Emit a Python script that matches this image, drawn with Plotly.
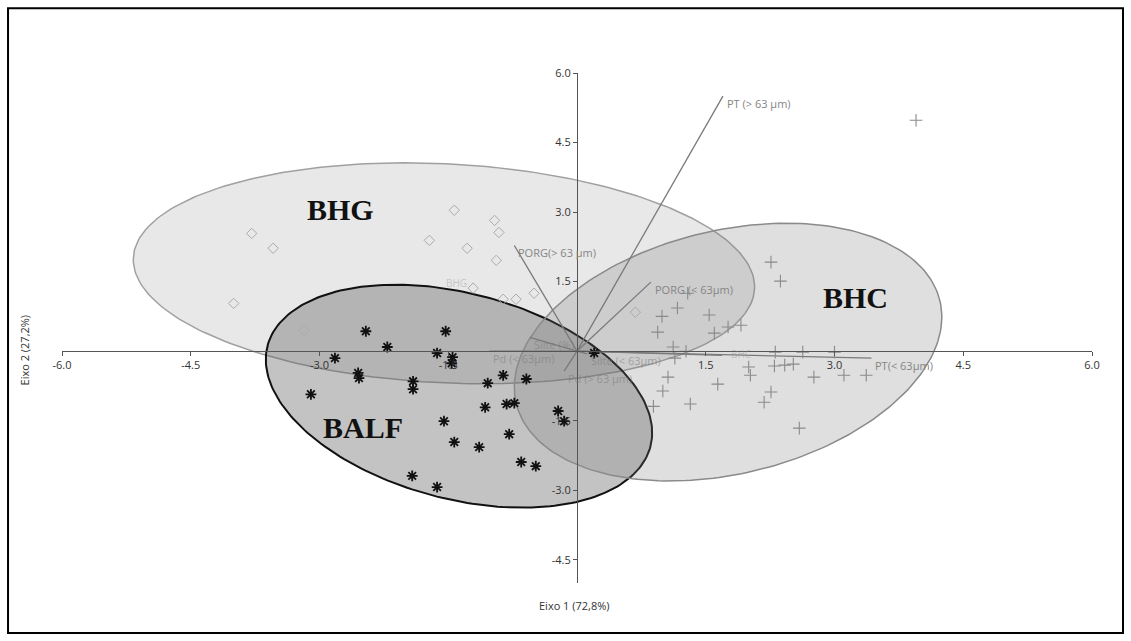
import numpy as np
import plotly.graph_objects as go

# PCA sample scores per group (Eixo 1, Eixo 2)
bhg_x = [-3.79, -3.54, -4.00, -1.43, -1.72, -1.28, -0.96, -0.91, -0.94, -1.21, -0.86, -0.71, -0.50, 0.68, -3.18]
bhg_y = [2.54, 2.22, 1.03, 3.04, 2.39, 2.22, 2.82, 2.56, 1.96, 1.36, 1.12, 1.12, 1.25, 0.84, 0.45]

balf_x = [-2.46, -1.53, -2.21, -1.63, -1.45, -1.46, -2.82, -2.55, -2.54, -1.91, -1.91, -3.10, -1.04, -0.86, -0.59,
          -1.07, -0.82, -0.73, -1.55, -0.79, -1.43, -1.14, -0.22, -0.15, -0.65, -0.48, -1.92, -1.63, 0.20]
balf_y = [0.43, 0.43, 0.09, -0.04, -0.13, -0.26, -0.15, -0.47, -0.58, -0.65, -0.82, -0.93, -0.69, -0.52, -0.60,
          -1.21, -1.14, -1.12, -1.51, -1.79, -1.96, -2.07, -1.29, -1.51, -2.39, -2.48, -2.69, -2.93, -0.04]

bhc_x = [2.26, 2.37, 1.29, 1.17, 0.99, 1.54, 0.94, 1.60, 1.76, 1.91, 1.12, 1.27, 1.14, 2.00, 2.02, 2.30, 2.42,
         2.52, 2.76, 3.11, 3.37, 2.31, 2.63, 3.00, 1.06, 1.00, 1.64, 2.26, 2.18, 1.32, 0.89, 2.59, 3.95]
bhc_y = [1.92, 1.51, 1.25, 0.93, 0.75, 0.78, 0.41, 0.39, 0.52, 0.56, 0.09, 0.00, -0.15, -0.34, -0.52, -0.32, -0.30,
         -0.28, -0.56, -0.52, -0.52, -0.02, -0.02, -0.02, -0.56, -0.86, -0.71, -0.88, -1.10, -1.14, -1.19, -1.66, 4.98]

# Variable loadings (biplot vectors)
var_labels = ["PT (> 63 µm)", "PORG(> 63 µm)", "PORG (< 63µm)", "PT(< 63µm)", "",
              "Silte (%)", "Pd (< 63µm)", "Pd (> 63 µm)", "Silte (< 63µm)"]
var_x = [1.70, -0.73, 0.86, 3.43, 1.69, -0.55, -1.02, -0.15, 0.12]
var_y = [5.50, 2.28, 1.49, -0.15, -0.09, 0.30, 0.00, -0.43, -0.06]

# 95% ellipses: center x, center y, semi-major, semi-minor, angle (deg)
groups = ["BHG", "BALF", "BHC"]
ell_cx = [-1.55, -1.375, 1.76]
ell_cy = [1.68, -0.97, -0.02]
ell_a = [3.64, 2.69, 3.00]
ell_b = [2.35, 1.90, 2.22]
ell_ang = [-8.0, -50.7, 56.0]

# Group name positions
grp_lx = [-2.76, -2.49, 3.25]
grp_ly = [3.06, -1.64, 1.16]

xticks = [-6.0, -4.5, -3.0, -1.5, 1.5, 3.0, 4.5, 6.0]
yticks = [6.0, 4.5, 3.0, 1.5, -1.5, -3.0, -4.5]

ell_fill = ["rgba(120,120,120,0.17)", "rgba(90,90,90,0.36)", "rgba(120,120,120,0.24)"]
ell_line = ["#a0a0a0", "#111111", "#8a8a8a"]
ell_width = [1.5, 2.0, 1.5]

fig = go.Figure()

t = np.linspace(0, 2 * np.pi, 240)
for i, g in enumerate(groups):
    th = np.deg2rad(ell_ang[i])
    ex = ell_cx[i] + ell_a[i] * np.cos(t) * np.cos(th) - ell_b[i] * np.sin(t) * np.sin(th)
    ey = ell_cy[i] + ell_a[i] * np.cos(t) * np.sin(th) + ell_b[i] * np.sin(t) * np.cos(th)
    fig.add_trace(go.Scatter(x=ex, y=ey, mode="lines", fill="toself",
                             fillcolor=ell_fill[i],
                             line=dict(color=ell_line[i], width=ell_width[i]),
                             hoverinfo="skip", showlegend=False))

# loading vectors
vx, vy = [], []
for x, y in zip(var_x, var_y):
    vx += [0, x, None]
    vy += [0, y, None]
fig.add_trace(go.Scatter(x=vx, y=vy, mode="lines",
                         line=dict(color="#7a7a7a", width=1.3),
                         hoverinfo="skip", showlegend=False))

# sample points
fig.add_trace(go.Scatter(x=bhg_x, y=bhg_y, mode="markers", name="BHG",
                         marker=dict(symbol="diamond-open", size=8,
                                     color="#aaaaaa", line=dict(width=1)),
                         showlegend=False))
fig.add_trace(go.Scatter(x=balf_x, y=balf_y, mode="markers", name="BALF",
                         marker=dict(symbol="asterisk-open", size=9,
                                     color="#111111", line=dict(width=1.8, color="#111111")),
                         showlegend=False))
fig.add_trace(go.Scatter(x=bhc_x, y=bhc_y, mode="markers", name="BHC",
                         marker=dict(symbol="cross-thin-open", size=9,
                                     color="#8a8a8a", line=dict(width=1.1, color="#8a8a8a")),
                         showlegend=False))

annotations = []
for lab, x, y in zip(var_labels, var_x, var_y):
    if not lab:
        continue
    near_origin = abs(x) < 1.1 and abs(y) < 0.5
    annotations.append(dict(x=x, y=y, text=lab, showarrow=False, xanchor="left", yanchor="middle",
                            xshift=2, yshift=-7,
                            font=dict(family="Open Sans", size=11,
                                      color="rgba(120,120,120,0.55)" if near_origin else "#858585")))

# faint group centroid tags
for g, x, y in [("BHG", -1.40, 1.47), ("BHC", 1.91, -0.06)]:
    annotations.append(dict(x=x, y=y, text=g, showarrow=False,
                            font=dict(family="Open Sans", size=10, color="rgba(150,150,150,0.45)")))

for g, x, y in zip(groups, grp_lx, grp_ly):
    annotations.append(dict(x=x, y=y, text="<b>" + g + "</b>", showarrow=False,
                            font=dict(family="Liberation Serif", size=30, color="#111111")))

annotations.append(dict(xref="paper", yref="paper", x=0.498, y=-0.063, text="Eixo 1 (72,8%)",
                        showarrow=False, font=dict(family="Open Sans", size=11, color="#333333")))
annotations.append(dict(xref="paper", yref="paper", x=-0.0456, y=0.457, text="Eixo 2 (27,2%)",
                        textangle=-90, showarrow=False,
                        font=dict(family="Open Sans", size=11, color="#333333")))

axis_common = dict(showgrid=False, zeroline=False, showline=True, linecolor="#555555", linewidth=1,
                   ticks="outside", ticklen=4, tickcolor="#555555", tickwidth=1,
                   tickfont=dict(family="Open Sans", size=11, color="#333333"),
                   anchor="free", fixedrange=True)

fig.update_layout(
    width=1131, height=641,
    margin=dict(l=62, r=39, t=73, b=58),
    paper_bgcolor="white", plot_bgcolor="white",
    xaxis=dict(range=[-6, 6], position=5 / 11, tickvals=xticks,
               ticktext=[f"{v:.1f}" for v in xticks], **axis_common),
    yaxis=dict(range=[-5, 6], position=0.5, tickvals=yticks,
               ticktext=[f"{v:.1f}" for v in yticks], **axis_common),
    annotations=annotations,
    shapes=[dict(type="rect", xref="paper", yref="paper", x0=-0.0524, x1=1.0301, y0=-0.098, y1=1.127,
                 line=dict(color="black", width=2), fillcolor="rgba(0,0,0,0)")],
    showlegend=False,
)

fig.write_html("out.html")
